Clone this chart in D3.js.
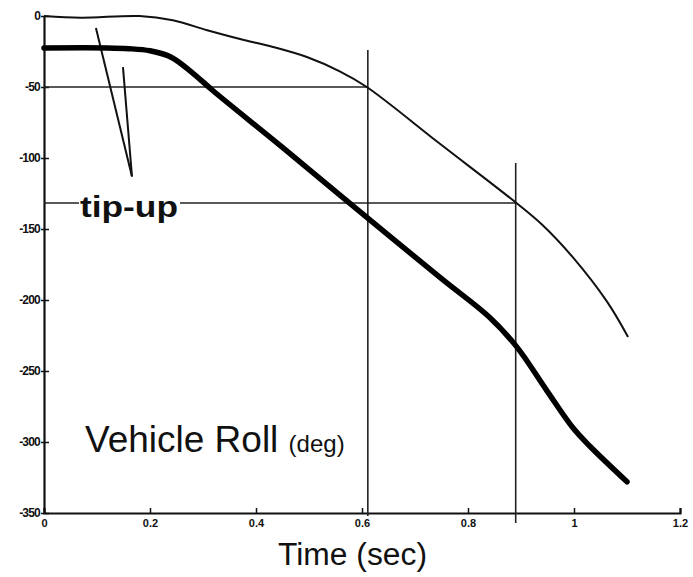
<!DOCTYPE html>
<html>
<head>
<meta charset="utf-8">
<script src="https://cdn.jsdelivr.net/npm/d3@7"></script>
<style>
  body { margin: 0; background: #fff; }
  svg { display: block; }
  text { font-family: "Liberation Sans", Arial, Helvetica, sans-serif; fill: #111; }
</style>
</head>
<body>
<svg id="chart" width="693" height="577"></svg>
<script>
// ---- data ----
const xTicks = [0, 0.2, 0.4, 0.6, 0.8, 1, 1.2];
const xTickLabels = ["0", "0.2", "0.4", "0.6", "0.8", "1", "1.2"];
const yTicks = [0, -50, -100, -150, -200, -250, -300, -350];
const yTickLabels = ["0", "-50", "-100", "-150", "-200", "-250", "-300", "-350"];

// thin curve
const thinTime = [0, 0.07, 0.18, 0.243, 0.308, 0.37, 0.432, 0.496, 0.558, 0.609, 0.747, 0.889, 0.94, 0.998, 1.062, 1.102];
const thinRoll = [0, -1.2, 0, -3, -10, -16.2, -21.8, -28.9, -39, -50, -90, -131, -147, -170, -201, -226];

// thick curve (vehicle roll)
const thickTime = [0, 0.12, 0.16, 0.2, 0.24, 0.28, 0.32, 0.45, 0.6, 0.75, 0.84, 0.892, 0.949, 0.998, 1.03, 1.1];
const thickRoll = [-22.5, -22.5, -23, -24.5, -29, -40, -53, -92.5, -139, -185, -212, -233, -264, -290, -303, -328];

// reference markers
const markTime = [0.611, 0.89];
const markRoll = [-50, -131.7];
const markTop = [-24, -103.5];

// tip-up pointer lines [t1, v1, t2, v2]
const pointer1 = [0.098, -8.5, 0.166, -113];
const pointer2 = [0.149, -36, 0.166, -113];

// ---- drawing ----
const svg = d3.select("#chart");
const x = d3.scaleLinear().domain([0, 1.2]).range([44, 680]);
const y = d3.scaleLinear().domain([0, -350]).range([16, 513]);

// axes
const xAxis = d3.axisBottom(x).tickValues(xTicks).tickSize(-5)
  .tickFormat((d, i) => xTickLabels[i]).tickPadding(6);
const gx = svg.append("g").attr("transform", `translate(0,${y(-350)})`).call(xAxis);
gx.select(".domain").attr("stroke", "#111").attr("stroke-width", 2.2);
gx.selectAll(".tick line").attr("stroke", "#111").attr("stroke-width", 1.5);
gx.selectAll(".tick text").attr("font-size", 11).attr("font-weight", "bold")
  .style("font-family", "'Liberation Sans', Arial, sans-serif").attr("fill", "#111");

const yAxis = d3.axisLeft(y).tickValues(yTicks).tickSizeInner(5).tickSizeOuter(0)
  .tickFormat((d, i) => yTickLabels[i]).tickPadding(2);
const gy = svg.append("g").attr("transform", `translate(${x(0)},0)`).call(yAxis);
gy.select(".domain").attr("stroke", "#111").attr("stroke-width", 2.2);
gy.selectAll(".tick line").attr("stroke", "#111").attr("stroke-width", 1.5).attr("x2", 5).attr("x1", -3);
gy.selectAll(".tick text").attr("font-size", 12).attr("font-weight", "bold")
  .attr("letter-spacing", "-0.8").attr("x", -4)
  .style("font-family", "'Liberation Sans', Arial, sans-serif").attr("fill", "#111");

// reference lines
markTime.forEach((t, i) => {
  svg.append("line").attr("x1", x(0)).attr("x2", x(t))
    .attr("y1", y(markRoll[i])).attr("y2", y(markRoll[i]))
    .attr("stroke", "#222").attr("stroke-width", 1.4);
  svg.append("line").attr("x1", x(t)).attr("x2", x(t))
    .attr("y1", y(markTop[i])).attr("y2", y(-350) + (i === 0 ? 3 : 10))
    .attr("stroke", "#222").attr("stroke-width", 1.6);
});

// pointer lines
[pointer1, pointer2].forEach(p => {
  svg.append("line").attr("x1", x(p[0])).attr("y1", y(p[1]))
    .attr("x2", x(p[2])).attr("y2", y(p[3]))
    .attr("stroke", "#111").attr("stroke-width", 2);
});

const line = d3.line().x(d => x(d[0])).y(d => y(d[1])).curve(d3.curveCatmullRom.alpha(0.5));

svg.append("path").datum(thinTime.map((t, i) => [t, thinRoll[i]]))
  .attr("d", line).attr("fill", "none").attr("stroke", "#111").attr("stroke-width", 2);

svg.append("path").datum(thickTime.map((t, i) => [t, thickRoll[i]]))
  .attr("d", line).attr("fill", "none").attr("stroke", "#000").attr("stroke-width", 5.5)
  .attr("stroke-linecap", "round");

// tip-up label with white backing
svg.append("rect").attr("x", 79).attr("y", 190).attr("width", 101).attr("height", 40).attr("fill", "#fff");
svg.append("text").attr("x", 80).attr("y", 217).attr("font-size", 30).attr("font-weight", "bold")
  .attr("textLength", 98).attr("lengthAdjust", "spacingAndGlyphs").text("tip-up");

// vehicle roll label
const vr = svg.append("text").attr("x", 85).attr("y", 452);
vr.append("tspan").attr("font-size", 37).text("Vehicle Roll ");
vr.append("tspan").attr("font-size", 24).text("(deg)");

// x axis title
svg.append("text").attr("x", 278).attr("y", 565).attr("font-size", 31)
  .attr("textLength", 149).attr("lengthAdjust", "spacingAndGlyphs").text("Time (sec)");
</script>
</body>
</html>
